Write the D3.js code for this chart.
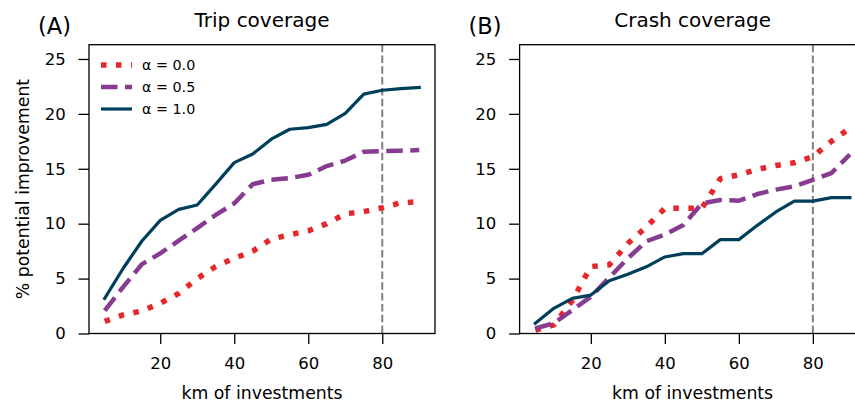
<!DOCTYPE html>
<html>
<head>
<meta charset="utf-8">
<script src="https://cdn.jsdelivr.net/npm/d3@7/dist/d3.min.js"></script>
<style>
body { margin: 0; background: #fff; }
text { font-family: "DejaVu Sans", sans-serif; fill: #000; }
</style>
</head>
<body>
<div id="viz"></div>
<script>
// data: km of investments vs % potential improvement
var km = [5, 10, 15, 20, 25, 30, 35, 40, 45, 50, 55, 60, 65, 70, 75, 80, 85, 90];

var tripAlpha00 = [1.1, 1.7, 2.05, 2.75, 3.65, 5.0, 6.1, 6.85, 7.5, 8.6, 9.0, 9.35, 10.0, 10.9, 11.1, 11.45, 11.9, 12.0];
var tripAlpha05 = [2.08, 4.25, 6.3, 7.3, 8.45, 9.6, 10.8, 11.85, 13.6, 14.0, 14.15, 14.45, 15.25, 15.75, 16.55, 16.6, 16.65, 16.7];
var tripAlpha10 = [3.2, 5.94, 8.4, 10.3, 11.3, 11.7, 13.6, 15.56, 16.35, 17.7, 18.6, 18.75, 19.05, 20.05, 21.8, 22.15, 22.3, 22.4];

var crashAlpha00 = [0.32, 0.78, 3.0, 6.1, 6.25, 8.2, 9.7, 11.4, 11.4, 11.4, 14.1, 14.45, 14.95, 15.3, 15.55, 16.1, 17.5, 18.7];
var crashAlpha05 = [0.47, 0.93, 2.13, 3.35, 5.1, 6.85, 8.4, 9.0, 9.88, 11.85, 12.15, 12.1, 12.7, 13.1, 13.4, 14.0, 14.6, 16.3];
var crashAlpha10 = [0.93, 2.29, 3.2, 3.5, 4.8, 5.4, 6.07, 6.97, 7.27, 7.27, 8.55, 8.55, 9.85, 11.07, 12.05, 12.05, 12.38, 12.38];

var alphaLabels = ['α = 0.0', 'α = 0.5', 'α = 1.0'];
var xTickValues = [20, 40, 60, 80];
var yTickValues = [0, 5, 10, 15, 20, 25];
var budgetLine = 80;

// line styles, same order as alphaLabels
var styles = [
    {color: '#e6262b', width: 5.5, dash: '5.5,9.5'},
    {color: '#873b91', width: 4.5, dash: '16.5,7.5'},
    {color: '#003f5c', width: 3.2, dash: null}
];

var svg = d3.select('#viz')
    .append('svg')
    .attr('width', 855)
    .attr('height', 406)
    ;

// one panel = axes box, lines, ticks and labels
var Panel = function(left, letter, title, series, showLegend){
    var obj = {};
    var margin = {top: 44.7, left: left};
    var width = 346;
    var height = 288.8;

    var xScale = d3.scaleLinear().domain([0.75, 94.25]).range([0, width]);
    var yScale = d3.scaleLinear().domain([0, 26.3]).range([height, 0]);

    obj.draw = function(){
        var chart = svg.append('g')
            .attr('transform', 'translate(' + margin.left + ', ' + margin.top + ')')
            ;

        // dashed budget marker
        chart.append('line')
            .attr('x1', xScale(budgetLine))
            .attr('x2', xScale(budgetLine))
            .attr('y1', 0)
            .attr('y2', height)
            .attr('stroke', '#808080')
            .attr('stroke-width', 2)
            .attr('stroke-dasharray', '7.5,3.3')
            ;

        var line = d3.line()
            .x(function(d, i){ return xScale(km[i]); })
            .y(function(d){ return yScale(d); })
            ;

        series.forEach(function(values, k){
            chart.append('path')
                .datum(values)
                .attr('d', line)
                .attr('fill', 'none')
                .attr('stroke', styles[k].color)
                .attr('stroke-width', styles[k].width)
                .attr('stroke-linejoin', 'round')
                .attr('stroke-linecap', styles[k].dash ? 'butt' : 'square')
                .attr('stroke-dasharray', styles[k].dash)
                ;
        });

        // axes
        var xAxis = d3.axisBottom(xScale)
            .tickValues(xTickValues)
            .tickSize(10.5)
            .tickPadding(13.7)
            .tickFormat(d3.format('d'))
            ;
        var yAxis = d3.axisLeft(yScale)
            .tickValues(yTickValues)
            .tickSize(10.5)
            .tickPadding(12.8)
            .tickFormat(d3.format('d'))
            ;

        var gx = chart.append('g')
            .attr('transform', 'translate(0, ' + height + ')')
            .call(xAxis)
            ;
        var gy = chart.append('g').call(yAxis);

        [gx, gy].forEach(function(g){
            g.select('.domain').remove();
            g.selectAll('.tick line').attr('stroke', '#000').attr('stroke-width', 1.3);
            g.selectAll('.tick text')
                .style('font-family', '"DejaVu Sans", sans-serif')
                .style('font-size', '16.5px')
                .attr('fill', '#000')
                ;
        });

        // axes frame
        chart.append('rect')
            .attr('width', width)
            .attr('height', height)
            .attr('fill', 'none')
            .attr('stroke', '#000')
            .attr('stroke-width', 1.3)
            ;

        chart.append('text')
            .attr('x', width / 2)
            .attr('y', -17.7)
            .attr('text-anchor', 'middle')
            .style('font-size', '20px')
            .text(title)
            ;
        chart.append('text')
            .attr('x', width / 2)
            .attr('y', height + 65.5)
            .attr('text-anchor', 'middle')
            .style('font-size', '17.3px')
            .text('km of investments')
            ;
        svg.append('text')
            .attr('x', margin.left - 51)
            .attr('y', 33.5)
            .style('font-size', '22.5px')
            .text(letter)
            ;

        if (showLegend) {
            var legend = chart.append('g')
                .attr('transform', 'translate(12, 20.3)')
                ;
            alphaLabels.forEach(function(label, k){
                var row = legend.append('g')
                    .attr('transform', 'translate(0, ' + (k * 22) + ')')
                    ;
                row.append('line')
                    .attr('x1', 0)
                    .attr('x2', 31)
                    .attr('stroke', styles[k].color)
                    .attr('stroke-width', styles[k].width)
                    .attr('stroke-linecap', 'butt')
                    .attr('stroke-dasharray', styles[k].dash)
                    ;
                row.append('text')
                    .attr('x', 41)
                    .attr('dy', '0.36em')
                    .style('font-size', '14.3px')
                    .text(label)
                    ;
            });
        }
    };

    return obj;
};

var trip = Panel(89, '(A)', 'Trip coverage', [tripAlpha00, tripAlpha05, tripAlpha10], true);
trip.draw();

var crash = Panel(519.6, '(B)', 'Crash coverage', [crashAlpha00, crashAlpha05, crashAlpha10], false);
crash.draw();

// y label only on the left panel
svg.append('text')
    .attr('transform', 'translate(29, 189) rotate(-90)')
    .attr('text-anchor', 'middle')
    .style('font-size', '17.3px')
    .text('% potential improvement')
    ;
</script>
</body>
</html>
